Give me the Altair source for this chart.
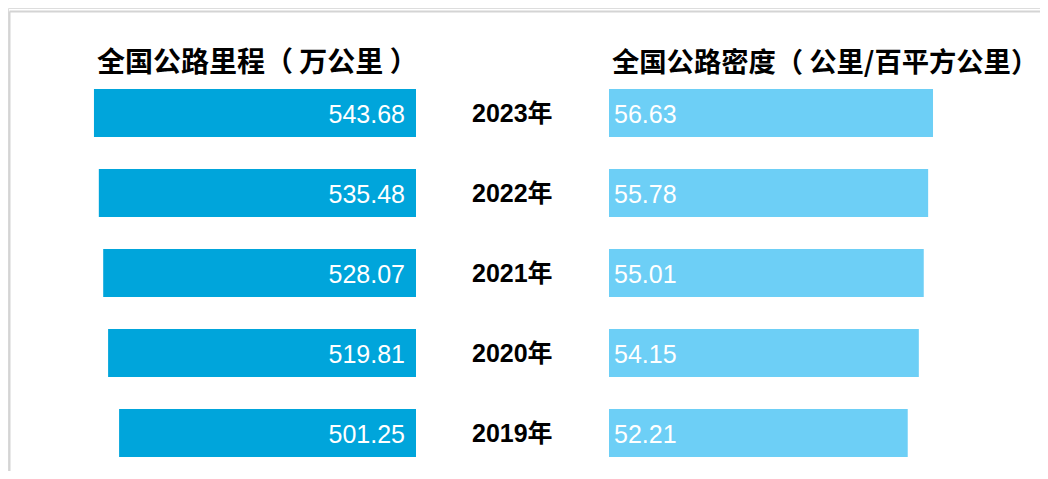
import altair as alt
import pandas as pd

years = ["2023年", "2022年", "2021年", "2020年", "2019年"]
mileage = [543.68, 535.48, 528.07, 519.81, 501.25]
density = [56.63, 55.78, 55.01, 54.15, 52.21]
title_left = "全国公路里程（ 万公里 ）"
title_right = "全国公路密度（ 公里/百平方公里）"

df = pd.DataFrame({
    "year": years,
    "mileage": mileage,
    "density": density,
    "mileage_lbl": [f"{v:.2f}" for v in mileage],
    "density_lbl": [f"{v:.2f}" for v in density],
})

W, H = 1032, 463
NUM_FONT = "Liberation Sans, Arial, Noto Sans CJK SC"
CJK_FONT = "Noto Sans CJK SC"

yscale = alt.Scale(domain=years, range=[65, 465], paddingInner=0.4, paddingOuter=0.2)
Y = alt.Y("year:N", scale=yscale, axis=None, sort=years)

base = alt.Chart(df)

left_bars = base.mark_bar(color="#00A5DB").encode(
    x=alt.X("mileage:Q", scale=alt.Scale(domain=[0, 600], range=[408, 52.6], nice=False, zero=True), axis=None),
    y=Y,
)
right_bars = base.mark_bar(color="#6DCFF6").encode(
    x=alt.X("density:Q", scale=alt.Scale(domain=[0, 60], range=[601, 944.3], nice=False, zero=True), axis=None),
    y=Y,
)

left_lbl = base.mark_text(align="right", baseline="middle", dy=2, color="white",
                          fontSize=25, font=NUM_FONT).encode(
    x=alt.value(397), y=Y, text="mileage_lbl:N")
right_lbl = base.mark_text(align="left", baseline="middle", dy=2, color="white",
                           fontSize=25, font=NUM_FONT).encode(
    x=alt.value(606), y=Y, text="density_lbl:N")
year_lbl = base.mark_text(align="left", baseline="middle", dy=1, color="black",
                          fontSize=25, fontWeight="bold", font=NUM_FONT).encode(
    x=alt.value(464), y=Y, text="year:N")

t1 = alt.Chart(pd.DataFrame({"t": [title_left]})).mark_text(
    align="left", baseline="middle", fontSize=28, fontWeight="bold", font=CJK_FONT, color="black"
).encode(x=alt.value(89), y=alt.value(56), text="t:N")
t2 = alt.Chart(pd.DataFrame({"t": [title_right]})).mark_text(
    align="left", baseline="middle", fontSize=27.3, fontWeight="bold", font=CJK_FONT, color="black"
).encode(x=alt.value(604), y=alt.value(56), text="t:N")

dummy = pd.DataFrame({"a": [0]})
border_left = alt.Chart(dummy).mark_rule(color="#d4d4d4", strokeWidth=2).encode(
    x=alt.value(1.5), y=alt.value(3.5), y2=alt.value(H))
border_top = alt.Chart(dummy).mark_rule(color="#d4d4d4", strokeWidth=2).encode(
    x=alt.value(1.5), x2=alt.value(W), y=alt.value(3.5))

chart = alt.layer(
    border_left, border_top, left_bars, right_bars, left_lbl, right_lbl, year_lbl, t1, t2
).resolve_scale(x="independent").properties(
    width=W, height=H, padding=0, autosize=alt.AutoSizeParams(type="none")
).configure_view(stroke=None).configure(background="white")

chart.save("out.html", embed_options={"renderer": "svg", "actions": False})
